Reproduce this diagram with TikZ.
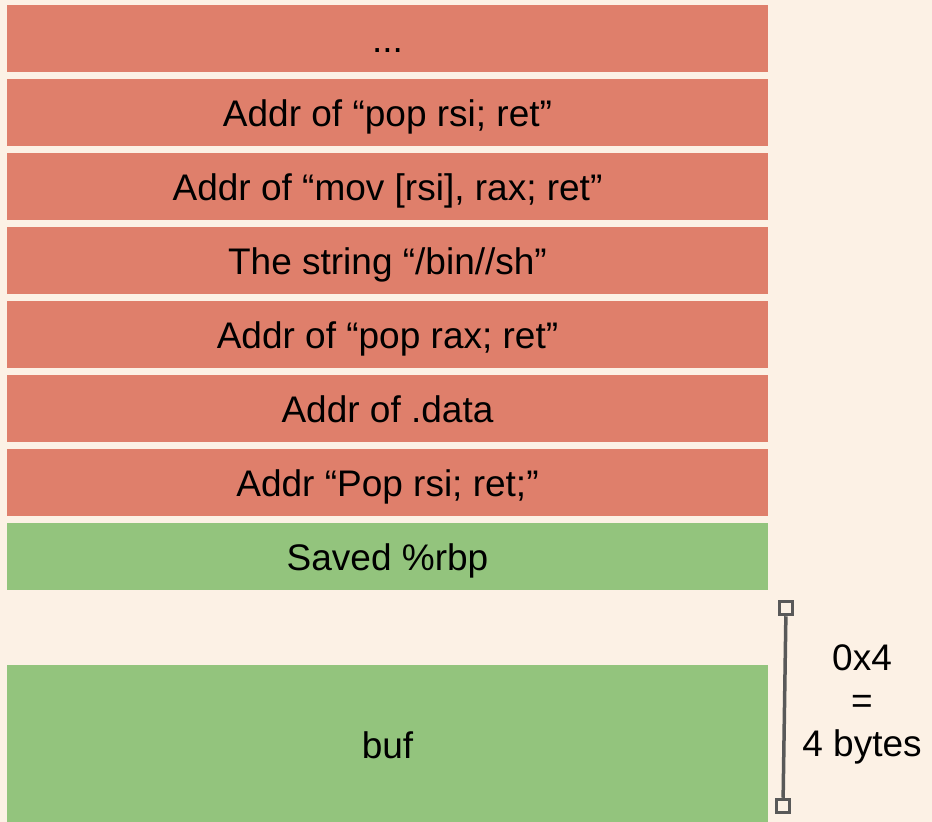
\documentclass[tikz,border=0pt]{standalone}
\usepackage{fontspec}
\setmainfont{Liberation Sans}
\usetikzlibrary{positioning}
\definecolor{paper}{HTML}{FCF1E5}
\definecolor{ropred}{HTML}{DF7F6B}
\definecolor{keepgreen}{HTML}{93C47D}
\definecolor{rulegray}{HTML}{595959}
\tikzset{font=\fontsize{37}{43}\selectfont,
  cell/.style={minimum width=761pt,minimum height=67pt,inner sep=0pt,outer sep=0pt,
    text height=27pt,text depth=0pt,fill=ropred},
  saved/.style={cell,fill=keepgreen},
  tick/.style={draw=rulegray,line width=3.5pt,fill=paper,minimum size=13pt,inner sep=0pt}}

\begin{document}
\begin{tikzpicture}[x=1pt,y=-1pt,node distance=7pt]
\fill[paper] (0,0) rectangle (932,822);
\useasboundingbox (0,0) rectangle (932,822);
\node[cell] (dots) at (387.5,38.5) {...};
\node[cell] (popRsi) [below=of dots] {Addr of “pop rsi; ret”};
\node[cell] (movRsi) [below=of popRsi] {Addr of “mov [rsi], rax; ret”};
\node[cell] (binsh) [below=of movRsi] {The string “/bin//sh”};
\node[cell] (popRax) [below=of binsh] {Addr of “pop rax; ret”};
\node[cell] (dataAddr) [below=of popRax] {Addr of .data};
\node[cell] (popRsiB) [below=of dataAddr] {Addr “Pop rsi; ret;”};
\node[saved] (rbp) [below=of popRsiB] {Saved \%rbp};
\node[saved,minimum height=160pt] (buf) [below=75pt of rbp] {buf};
% size marker
\node[tick] (capTop) at (786,608) {};
\node[tick] (capBot) at (783,806) {};
\draw[rulegray,line width=3.5pt] (capTop) -- (capBot);
\node[align=center] (size) at (862,704) {0x4\\=\\4 bytes};
\end{tikzpicture}
\end{document}
